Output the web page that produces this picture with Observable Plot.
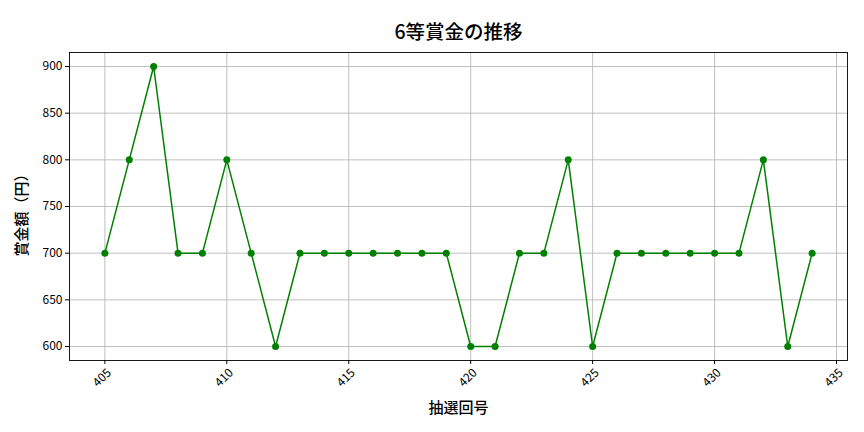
<!DOCTYPE html>
<html><head><meta charset="utf-8">
<script src="https://cdn.jsdelivr.net/npm/d3@7"></script>
<script src="https://cdn.jsdelivr.net/npm/@observablehq/plot@0.6"></script>
<style>body{margin:0;background:#fff}</style>
</head><body><div id="c"></div>
<script>
const draws = [405,406,407,408,409,410,411,412,413,414,415,416,417,418,419,420,421,422,423,424,425,426,427,428,429,430,431,432,433,434];
const prizes = [700,800,900,700,700,800,700,600,700,700,700,700,700,700,700,600,600,700,700,800,600,700,700,700,700,700,700,800,600,700];
const xTicks = [405,410,415,420,425,430,435];
const yTicks = [600,650,700,750,800,850,900];
const title = "6等賞金の推移";
const xLabel = "抽選回号";
const yLabel = "賞金額（円）";

const data = draws.map((d,i)=>({draw:d, prize:prizes[i]}));
const font = "'Noto Sans CJK JP', 'Noto Sans', sans-serif";

const chart = Plot.plot({
  width: 864, height: 432,
  marginLeft: 69, marginRight: 17, marginTop: 52, marginBottom: 72,
  style: {fontFamily: font, fontSize: "12px", color: "#000", background: "#fff"},
  x: {domain: [403.55, 435.45]},
  y: {domain: [585, 915]},
  marks: [
    Plot.gridX(xTicks, {stroke: "#b0b0b0", strokeOpacity: 1, strokeWidth: 0.8}),
    Plot.gridY(yTicks, {stroke: "#b0b0b0", strokeOpacity: 1, strokeWidth: 0.8}),
    Plot.frame({stroke: "#000", strokeWidth: 0.9}),
    Plot.axisY(yTicks, {tickSize: 4, tickPadding: 3, fontSize: 12, label: null}),
    Plot.axisX(xTicks, {tickSize: 4, text: null, label: null}),
    Plot.text(xTicks, {x: d=>d, frameAnchor: "bottom", dy: 20, rotate: -45, textAnchor: "middle", fontSize: 12, text: d=>String(d)}),
    Plot.line(data, {x: "draw", y: "prize", stroke: "#008000", strokeWidth: 1.5}),
    Plot.dot(data, {x: "draw", y: "prize", fill: "#008000", r: 3.5}),
    Plot.text([title], {frameAnchor: "top", dy: -27, fontSize: 19.5, fontWeight: 500, fill: "#000", text: d=>d}),
    Plot.text([xLabel], {frameAnchor: "bottom", dy: 52, fontSize: 15, fontWeight: 500, fill: "#000", text: d=>d}),
    Plot.text([yLabel], {frameAnchor: "left", textAnchor: "middle", dx: -47, dy: 5, rotate: -90, fontSize: 15, fontWeight: 500, fill: "#000", text: d=>d})
  ]
});
document.getElementById("c").appendChild(chart);
</script></body></html>
